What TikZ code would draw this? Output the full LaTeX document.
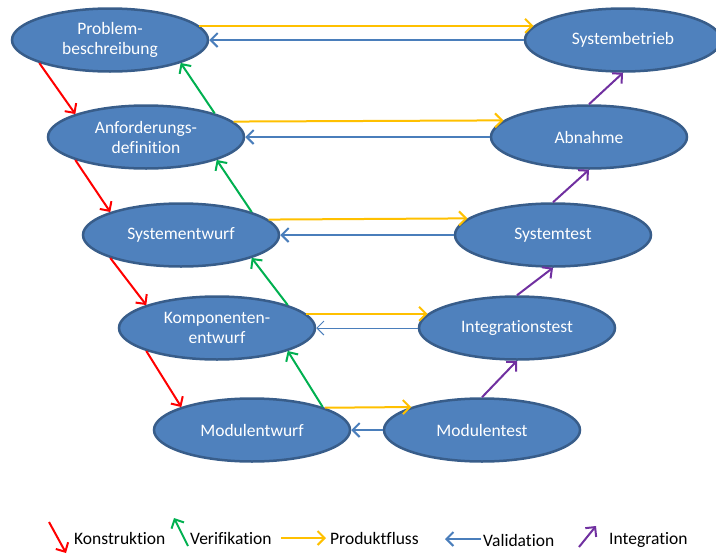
\documentclass[tikz,border=0pt]{standalone}
\usepackage{fontspec}
\setmainfont{Carlito}[Ligatures=CommonOff]
\usetikzlibrary{arrows.meta,shapes.geometric}

\definecolor{phasefill}{HTML}{4F81BD}
\definecolor{phaseedge}{HTML}{385D8A}
\definecolor{konstr}{HTML}{FF0000}
\definecolor{verif}{HTML}{00B050}
\definecolor{prodfl}{HTML}{FFC000}
\definecolor{valid}{HTML}{4A7EBB}
\definecolor{integ}{HTML}{7030A0}

\begin{document}
\begin{tikzpicture}[x=1pt,y=-1pt,
  phase/.style={ellipse, draw=phaseedge, line width=2.5pt, fill=phasefill,
    minimum width=196pt, minimum height=63pt, inner sep=0pt, align=center,
    text=white, font=\fontsize{17.5}{20}\selectfont},
  flow/.style={line width=2pt, -{Straight Barb[length=7pt,width=14pt]}},
  konstruktion/.style={flow, draw=konstr},
  verifikation/.style={flow, draw=verif},
  produktfluss/.style={flow, draw=prodfl},
  validation/.style={flow, draw=valid},
  integration/.style={flow, draw=integ},
  legendtext/.style={anchor=west, inner sep=0pt, text=black,
    font=\fontsize{17.5}{20}\selectfont}
]
\useasboundingbox (0,0) rectangle (716,555);

% phases, left branch (design) and right branch (test)
\node[phase] (pb) at (110,40)  {Problem-\\beschreibung};
\node[phase] (sb) at (623,40)  {Systembetrieb};
\node[phase] (ad) at (146,137) {Anforderungs-\\definition};
\node[phase] (ab) at (589,137) {Abnahme};
\node[phase] (se) at (181,235) {Systementwurf};
\node[phase] (st) at (553,235) {Systemtest};
\node[phase] (ke) at (217,328) {Komponenten-\\entwurf};
\node[phase] (it) at (517,328) {Integrationstest};
\node[phase] (mw) at (252,430) {Modulentwurf};
\node[phase] (mt) at (482,430) {Modulentest};

% construction steps down the left branch
\draw[konstruktion] (pb.-162) -- (ad.162);
\draw[konstruktion] (ad.-162) -- (se.162);
\draw[konstruktion] (se.-162) -- (ke.162);
\draw[konstruktion] (ke.-162) -- (mw.162);

% verification back up the left branch
\draw[verifikation] (ad.19) -- (pb.-18);
\draw[verifikation] (se.18) -- (ad.-18);
\draw[verifikation] (ke.18) -- (se.-18);
\draw[verifikation] (mw.18) -- (ke.-18);

% product flow across
\draw[produktfluss] (pb.9)  -- (sb.171);
\draw[produktfluss] (ad.10.5) -- (ab.169.5);
\draw[produktfluss] (se.10.5) -- (st.169.5);
\draw[produktfluss] (ke.9)  -- (it.171);
\draw[produktfluss] (mw.17.5) -- (mt.162.5);

% validation back across
\draw[validation] (sb.west) -- (pb.east);
\draw[validation] (ab.west) -- (ad.east);
\draw[validation] (st.west) -- (se.east);
\draw[validation, line width=1pt] (it.west) -- (ke.east);
\draw[validation] (mt.west) -- (mw.east);

% integration up the right branch
\draw[integration] (mt.north) -- (it.south);
\draw[integration] (it.north) -- (st.south);
\draw[integration] (st.north) -- (ab.south);
\draw[integration] (ab.north) -- (sb.south);

% legend
\coordinate (k1) at (49,522);  \coordinate (k2) at (66,553);
\coordinate (v1) at (188,546); \coordinate (v2) at (174,518);
\coordinate (p1) at (281,538); \coordinate (p2) at (326,538);
\coordinate (a1) at (481,539); \coordinate (a2) at (445,539);
\coordinate (i1) at (579,547); \coordinate (i2) at (596,526);
\draw[konstruktion] (k1) -- (k2);
\draw[verifikation] (v1) -- (v2);
\draw[produktfluss] (p1) -- (p2);
\draw[validation] (a1) -- (a2);
\draw[integration] (i1) -- (i2);
\node[legendtext] (lk) at (74,538)  {Konstruktion};
\node[legendtext] (lv) at (190,538) {Verifikation};
\node[legendtext] (lp) at (330,538) {Produktfluss};
\node[legendtext] (la) at (483,540) {Validation};
\node[legendtext] (li) at (609,540) {Integration};
\end{tikzpicture}
\end{document}
